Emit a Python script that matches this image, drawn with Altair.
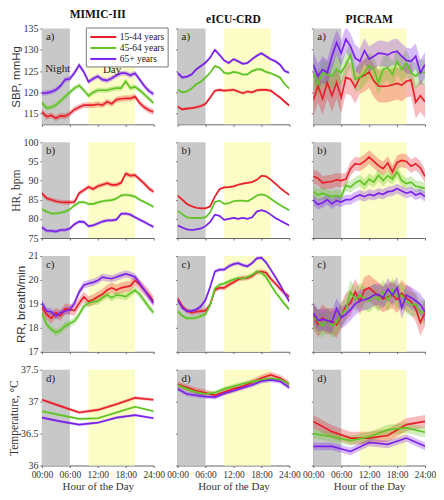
import altair as alt
import pandas as pd

# ---------------- data ----------------
HOURS = list(range(25))
HOURS_4H = [0, 4, 8, 12, 16, 20, 24]
HOURS_2H = [0, 2, 4, 6, 8, 10, 12, 14, 16, 18, 20, 22, 24]

GROUPS = ["15-44 years", "45-64 years", "65+ years"]
COLORS = ["#e8202a", "#5fc424", "#7b22ea"]
DATASETS = ["MIMIC-III", "eICU-CRD", "PICRAM"]
TAGS = ["a)", "b)", "c)", "d)"]
NIGHT = [0, 6]
DAY = [10, 20]
X_TICKS = [0, 6, 12, 18, 24]

# SBP, mmHg
sbp_mimic_1544 = [115.4, 114.3, 114.6, 113.9, 114.5, 114.4, 115.0, 116.0, 116.5, 117.0, 117.0, 117.0, 117.2, 117.0, 117.8, 117.3, 118.3, 118.5, 118.6, 118.6, 119.0, 117.5, 116.5, 115.8, 115.4]
sbp_mimic_4564 = [117.6, 116.3, 116.5, 117.0, 118.0, 119.0, 120.0, 121.0, 121.6, 120.5, 119.2, 120.0, 120.5, 120.5, 120.5, 120.8, 121.0, 121.0, 122.6, 121.0, 121.3, 120.5, 119.5, 118.5, 117.5]
sbp_mimic_65 = [119.8, 119.9, 120.1, 120.6, 121.5, 123.0, 123.2, 124.6, 126.4, 124.8, 122.5, 123.2, 123.8, 123.0, 122.8, 123.3, 124.0, 124.5, 124.5, 124.0, 124.5, 123.0, 121.5, 120.3, 119.6]
sbp_eicu_1544 = [116.7, 116.0, 116.2, 116.3, 116.5, 116.8, 117.3, 118.8, 120.4, 120.6, 120.4, 120.5, 120.6, 120.2, 119.8, 120.2, 120.0, 120.5, 120.6, 120.6, 120.4, 119.6, 118.8, 117.8, 116.9]
sbp_eicu_4564 = [120.6, 120.0, 120.2, 120.9, 121.9, 122.5, 123.5, 124.6, 126.2, 125.8, 124.6, 124.4, 124.8, 124.6, 124.2, 124.2, 125.0, 125.4, 125.4, 124.8, 124.5, 124.0, 123.5, 121.9, 120.9]
sbp_eicu_65 = [124.6, 123.5, 123.7, 124.2, 125.4, 126.2, 127.0, 128.2, 130.0, 128.8, 127.5, 126.9, 127.8, 127.3, 126.7, 126.9, 127.8, 128.6, 129.2, 128.5, 127.8, 127.3, 126.5, 125.0, 124.6]
sbp_picram_1544 = [118.1, 121.5, 118.5, 122.3, 119.2, 122.3, 118.8, 123.5, 123.1, 121.2, 123.5, 124.0, 124.8, 122.7, 121.5, 121.4, 121.5, 121.8, 122.1, 121.7, 122.6, 122.9, 117.7, 119.2, 117.8]
sbp_picram_4564 = [124.6, 121.9, 124.6, 124.2, 123.8, 125.4, 124.6, 126.5, 128.8, 123.1, 123.5, 124.6, 126.2, 125.4, 122.3, 125.4, 125.8, 124.2, 127.3, 125.4, 126.9, 124.6, 123.8, 124.8, 124.6]
sbp_picram_65 = [126.5, 123.8, 125.4, 124.6, 128.5, 131.7, 129.2, 132.5, 130.8, 128.1, 127.3, 129.8, 127.8, 128.5, 129.2, 129.1, 128.8, 129.4, 129.6, 128.5, 127.5, 127.3, 128.5, 124.6, 126.5]

# HR, bpm
hr_mimic_1544 = [86.7, 85.4, 85.0, 84.6, 84.4, 84.3, 84.3, 84.4, 86.7, 87.5, 88.3, 87.8, 88.5, 88.9, 89.3, 88.9, 88.9, 89.4, 91.8, 91.3, 91.4, 90.3, 89.2, 87.9, 87.1]
hr_mimic_4564 = [82.5, 81.9, 81.4, 81.4, 81.6, 81.9, 82.5, 83.5, 84.3, 84.4, 83.9, 83.9, 84.3, 84.6, 84.8, 84.9, 85.3, 86.1, 86.3, 86.1, 85.8, 85.0, 84.4, 83.8, 83.1]
hr_mimic_65 = [77.8, 76.9, 76.9, 76.7, 77.1, 77.1, 77.5, 78.6, 79.3, 79.2, 78.1, 78.3, 78.8, 79.3, 79.6, 79.6, 79.8, 81.3, 81.4, 81.1, 80.4, 79.8, 79.2, 78.5, 77.9]
hr_eicu_1544 = [86.1, 85.0, 83.9, 83.3, 82.9, 82.75, 82.75, 83.3, 85.8, 87.75, 88.2, 88.3, 88.5, 88.9, 89.2, 89.4, 89.6, 90.2, 91.25, 91.1, 90.25, 89.2, 88.1, 87.1, 86.25]
hr_eicu_4564 = [82.1, 81.25, 80.4, 80.25, 80.25, 80.25, 80.4, 81.7, 84.4, 84.75, 83.9, 84.1, 84.6, 84.75, 84.75, 84.6, 85.25, 86.1, 86.4, 86.1, 85.25, 84.4, 83.6, 82.9, 82.25]
hr_eicu_65 = [78.3, 77.75, 77.25, 77.1, 77.25, 77.5, 78.1, 79.2, 81.1, 80.8, 79.75, 80.0, 80.25, 80.0, 80.25, 80.0, 80.4, 81.9, 82.25, 81.9, 81.1, 80.25, 79.6, 78.9, 78.3]
hr_picram_1544 = [91.1, 90.6, 89.4, 89.6, 89.75, 90.2, 90.0, 90.4, 93.1, 94.4, 94.2, 95.0, 96.1, 95.0, 93.9, 93.1, 94.6, 92.25, 94.75, 95.25, 95.0, 93.75, 94.4, 93.3, 91.1]
hr_picram_4564 = [87.1, 86.25, 86.7, 86.25, 85.8, 86.1, 85.8, 88.75, 88.3, 89.4, 90.0, 88.9, 90.4, 89.6, 91.4, 90.0, 91.25, 90.4, 92.25, 90.0, 89.2, 89.6, 88.5, 88.3, 87.9]
hr_picram_65 = [85.0, 83.75, 84.2, 85.0, 83.9, 84.75, 84.4, 85.0, 85.0, 85.8, 86.25, 85.8, 86.4, 86.1, 86.7, 86.4, 87.1, 87.25, 87.9, 87.25, 86.7, 87.1, 86.25, 86.7, 85.8]

# RR, breath/min
rr_mimic_1544 = [18.86, 18.56, 18.4, 18.63, 18.5, 18.8, 18.76, 18.72, 19.03, 19.3, 19.1, 19.17, 19.3, 19.4, 19.58, 19.67, 19.58, 19.67, 19.71, 19.75, 19.98, 19.8, 19.58, 19.37, 19.1]
rr_mimic_4564 = [18.63, 18.15, 17.95, 17.8, 17.9, 18.08, 18.18, 18.29, 18.56, 18.9, 19.03, 19.1, 19.1, 19.26, 19.37, 19.26, 19.37, 19.35, 19.3, 19.44, 19.58, 19.4, 19.13, 18.86, 18.63]
rr_mimic_65 = [19.03, 18.7, 18.67, 18.5, 18.63, 18.7, 18.76, 19.03, 19.5, 19.78, 19.85, 19.9, 19.98, 20.12, 20.08, 20.05, 20.12, 20.19, 20.25, 20.2, 20.12, 19.85, 19.58, 19.3, 19.03]
rr_eicu_1544 = [19.24, 18.9, 18.72, 18.63, 18.67, 18.7, 18.72, 18.97, 19.58, 19.67, 19.67, 19.8, 19.9, 20.02, 20.08, 20.08, 20.16, 20.32, 20.35, 20.3, 20.05, 19.85, 19.64, 19.44, 19.3]
rr_eicu_4564 = [18.7, 18.5, 18.4, 18.4, 18.42, 18.5, 18.56, 18.97, 19.64, 19.8, 19.85, 19.94, 20.02, 20.08, 20.05, 20.12, 20.21, 20.35, 20.3, 20.12, 19.8, 19.5, 19.24, 18.99, 18.76]
rr_eicu_65 = [19.17, 18.83, 18.7, 18.7, 18.76, 18.9, 19.17, 19.71, 20.35, 20.43, 20.43, 20.57, 20.66, 20.7, 20.62, 20.57, 20.7, 20.9, 20.93, 20.73, 20.43, 20.12, 19.8, 19.44, 19.1]
rr_picram_1544 = [18.5, 18.15, 18.42, 18.26, 18.29, 18.12, 18.5, 18.9, 19.03, 19.5, 19.1, 19.58, 19.67, 19.5, 19.35, 19.2, 19.3, 19.37, 19.17, 19.44, 19.24, 19.1, 18.8, 18.22, 18.63]
rr_picram_4564 = [18.42, 18.29, 18.08, 18.35, 18.08, 18.22, 18.56, 18.76, 19.5, 19.17, 19.37, 19.24, 19.13, 19.37, 19.17, 19.5, 19.17, 19.58, 19.3, 19.37, 19.1, 18.97, 18.99, 18.63, 18.7]
rr_picram_65 = [18.63, 18.31, 18.35, 18.31, 18.22, 18.8, 18.42, 18.56, 18.76, 18.99, 19.13, 19.17, 19.24, 19.37, 19.4, 19.26, 19.62, 19.37, 19.67, 18.83, 19.37, 19.26, 19.13, 18.97, 18.67]

# Temperature, degC
temp_mimic_1544 = [37.03, 36.93, 36.83, 36.87, 36.96, 37.06, 37.03]
temp_mimic_4564 = [36.85, 36.79, 36.73, 36.74, 36.83, 36.92, 36.85]
temp_mimic_65 = [36.75, 36.69, 36.64, 36.67, 36.75, 36.79, 36.74]
temp_eicu_1544 = [37.27, 37.22, 37.17, 37.14, 37.1, 37.15, 37.2, 37.24, 37.3, 37.37, 37.42, 37.37, 37.27]
temp_eicu_4564 = [37.26, 37.2, 37.15, 37.12, 37.14, 37.2, 37.24, 37.28, 37.31, 37.34, 37.36, 37.35, 37.27]
temp_eicu_65 = [37.2, 37.12, 37.1, 37.08, 37.07, 37.13, 37.17, 37.22, 37.26, 37.32, 37.34, 37.32, 37.22]
temp_picram_1544 = [36.69, 36.53, 36.43, 36.43, 36.47, 36.64, 36.69]
temp_picram_4564 = [36.5, 36.45, 36.39, 36.45, 36.56, 36.59, 36.52]
temp_picram_65 = [36.3, 36.3, 36.22, 36.36, 36.33, 36.43, 36.3]

# half widths of the shaded confidence bands, per series
ci_sbp = {"MIMIC-III": [0.7, 0.6, 0.6], "eICU-CRD": [0.35, 0.3, 0.35], "PICRAM": [3.8, 3.0, 3.0]}
ci_hr = {"MIMIC-III": [0.6, 0.4, 0.45], "eICU-CRD": [0.25, 0.2, 0.2], "PICRAM": [1.8, 1.5, 1.3]}
ci_rr = {"MIMIC-III": [0.22, 0.15, 0.15], "eICU-CRD": [0.1, 0.08, 0.08], "PICRAM": [0.55, 0.5, 0.45]}
ci_temp = {"MIMIC-III": [0.025, 0.02, 0.02], "eICU-CRD": [0.05, 0.035, 0.035], "PICRAM": [0.1, 0.08, 0.06]}

ROWS = [
    dict(title="SBP, mmHg", font="Liberation Sans", domain=[112.5, 135], ticks=[115, 120, 125, 130, 135], ci=ci_sbp,
         hours=[HOURS, HOURS, HOURS],
         series=[[sbp_mimic_1544, sbp_mimic_4564, sbp_mimic_65], [sbp_eicu_1544, sbp_eicu_4564, sbp_eicu_65],
                 [sbp_picram_1544, sbp_picram_4564, sbp_picram_65]]),
    dict(title="HR, bpm", font="Liberation Serif", domain=[75, 100], ticks=[75, 80, 85, 90, 95, 100], ci=ci_hr,
         hours=[HOURS, HOURS, HOURS],
         series=[[hr_mimic_1544, hr_mimic_4564, hr_mimic_65], [hr_eicu_1544, hr_eicu_4564, hr_eicu_65],
                 [hr_picram_1544, hr_picram_4564, hr_picram_65]]),
    dict(title="RR, breath/min", font="Liberation Sans", domain=[17, 21], ticks=[17, 18, 19, 20, 21], ci=ci_rr,
         hours=[HOURS, HOURS, HOURS],
         series=[[rr_mimic_1544, rr_mimic_4564, rr_mimic_65], [rr_eicu_1544, rr_eicu_4564, rr_eicu_65],
                 [rr_picram_1544, rr_picram_4564, rr_picram_65]]),
    dict(title="Temperature, \u00b0C", font="Liberation Serif", domain=[36, 37.5], ticks=[36, 36.5, 37, 37.5], ci=ci_temp,
         hours=[HOURS_4H, HOURS_2H, HOURS_4H],
         series=[[temp_mimic_1544, temp_mimic_4564, temp_mimic_65], [temp_eicu_1544, temp_eicu_4564, temp_eicu_65],
                 [temp_picram_1544, temp_picram_4564, temp_picram_65]]),
]

ANNOT_TEXT = ["Night", "Day"]
ANNOT_HOUR = [0.7, 13.1]
ANNOT_VALUE = [125.4, 125.3]

# ---------------- styling ----------------
W, H = 112, 96
SERIF = "Liberation Serif"
GRAY = "#c8c8c8"
YELLOW = "#fcfcc6"
AXC = "#666666"

cscale = alt.Scale(domain=GROUPS, range=COLORS)
xscale = alt.Scale(domain=[0, 24], nice=False, zero=False)

shade_df = pd.DataFrame({"start": [NIGHT[0], DAY[0]], "end": [NIGHT[1], DAY[1]], "kind": ["night", "day"]})

LEGEND = alt.Legend(orient="none", legendX=44, legendY=-1, title=None,
                    symbolType="M-2.5,0H2.5", symbolSize=108, symbolStrokeWidth=2, symbolOpacity=1,
                    symbolOffset=8, labelOffset=10,
                    labelFont=SERIF, labelFontSize=9.5, labelColor="#222",
                    padding=3, rowPadding=0, fillColor="white", strokeColor="#777",
                    labelLimit=120)


def make_panel(r, c):
    row = ROWS[r]
    ds = DATASETS[c]
    recs = []
    for g, vals, hw in zip(GROUPS, row["series"][c], row["ci"][ds]):
        for h, v in zip(row["hours"][c], vals):
            recs.append({"hour": h, "group": g, "value": v, "lo": v - hw, "hi": v + hw})
    df = pd.DataFrame(recs)

    bottom = r == len(ROWS) - 1
    left = c == 0
    xaxis = alt.Axis(values=X_TICKS, labels=bottom, grid=False, tickSize=2, labelOverlap=False, labelFlush=False,
                     labelExpr="(datum.value < 10 ? '0' : '') + datum.value + ':00'",
                     labelFont=SERIF, labelFontSize=9.5, labelPadding=2, labelColor="#333",
                     titleFont=SERIF, titleFontSize=11, titleFontWeight="normal", titlePadding=2,
                     titleColor="#333", domainColor=AXC, tickColor=AXC)
    xtitle = "Hour of the Day" if bottom else None
    yscale = alt.Scale(domain=row["domain"], nice=False, zero=False)
    yaxis = alt.Axis(values=row["ticks"], labels=left, grid=False, tickSize=2, format="~r",
                     labelOverlap=False, labelFlush=False,
                     labelFont=SERIF, labelFontSize=10, labelPadding=2, labelColor="#333",
                     titleFont=row["font"], titleFontSize=11.5, titleFontWeight="normal", titlePadding=1,
                     titleColor="#333", domainColor=AXC, tickColor=AXC)
    ytitle = row["title"] if left else None

    X = lambda f: alt.X(f, scale=xscale, axis=xaxis, title=xtitle)

    night = alt.Chart(shade_df[shade_df.kind == "night"]).mark_rect(color=GRAY).encode(
        x=X("start:Q"), x2="end:Q", y=alt.value(0), y2=alt.value(H))
    day = alt.Chart(shade_df[shade_df.kind == "day"]).mark_rect(color=YELLOW).encode(
        x=X("start:Q"), x2="end:Q", y=alt.value(0), y2=alt.value(H))

    base = alt.Chart(df)
    band = base.mark_area(opacity=0.3, clip=True).encode(
        x=X("hour:Q"),
        y=alt.Y("lo:Q", scale=yscale, axis=yaxis, title=ytitle), y2="hi:Q",
        fill=alt.Fill("group:N", scale=cscale, legend=LEGEND))

    line = base.mark_line(strokeWidth=1.7, clip=True).encode(
        x=X("hour:Q"),
        y=alt.Y("value:Q", scale=yscale, axis=yaxis, title=ytitle),
        color=alt.Color("group:N", scale=cscale, legend=LEGEND))

    tag = alt.Chart(pd.DataFrame({"t": [TAGS[r]]})).mark_text(
        align="left", baseline="middle", font=SERIF, fontSize=11, color="#222").encode(
        text="t:N", x=alt.value(4), y=alt.value(9))

    layers = [night, day, band, line, tag]
    if r == 0 and c == 0:
        annot = alt.Chart(pd.DataFrame({"hour": ANNOT_HOUR, "value": ANNOT_VALUE, "t": ANNOT_TEXT})).mark_text(
            align="left", baseline="middle", font=SERIF, fontSize=11, color="#222").encode(
            x=X("hour:Q"), y=alt.Y("value:Q", scale=yscale, axis=yaxis, title=ytitle), text="t:N")
        layers.append(annot)

    props = dict(width=W, height=H)
    if r == 0:
        props["title"] = alt.TitleParams(ds, font=SERIF, fontSize=11.5, fontWeight="bold", offset=3, color="#111")
    return alt.layer(*layers).properties(**props)


panels = [make_panel(r, c) for r in range(len(ROWS)) for c in range(len(DATASETS))]

chart = alt.concat(*panels, columns=3, spacing={"row": 18, "column": 24}, bounds="flush").resolve_scale(
    x="independent", y="independent", color="shared", fill="shared").resolve_legend(
    color="shared", fill="shared").properties(padding=0, background="white")

chart = chart.configure(
    font=SERIF,
    style={"guide-label": {"font": SERIF}, "guide-title": {"font": SERIF}},
).configure_view(stroke=None).configure_axis(labelFont=SERIF, titleFont=SERIF).configure_legend(labelFont=SERIF)

chart.save("out.html", embed_options={"renderer": "svg", "actions": False})
